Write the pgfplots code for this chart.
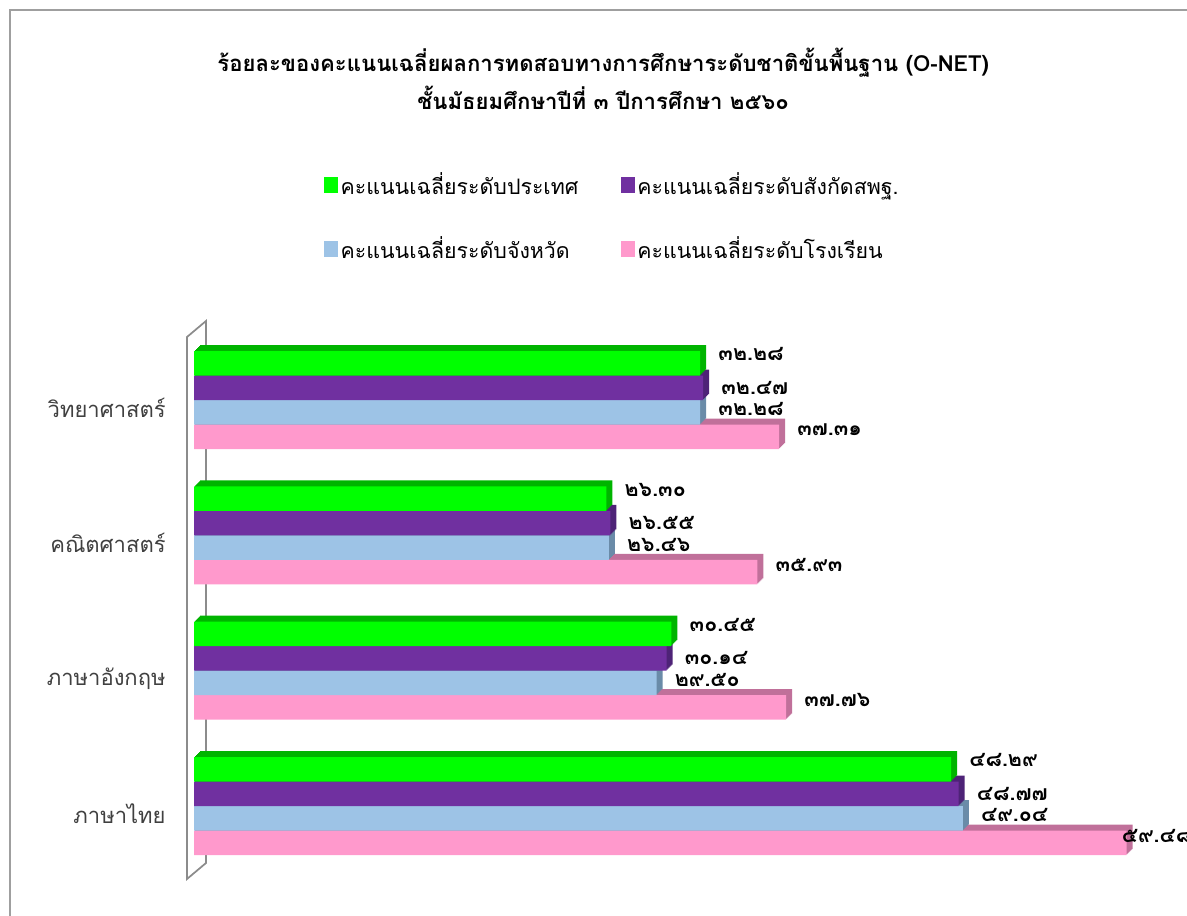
\documentclass[border=0pt]{standalone}
\usepackage{pgfplots}
\pgfplotsset{compat=1.18}
\usepackage{pgfplotstable}
\usepackage{fontspec}
\newfontfamily\thaifont[Script=Thai]{Loma}
\definecolor{cG}{HTML}{00FF00}
\definecolor{cGd}{HTML}{00B400}
\definecolor{cU}{HTML}{7030A0}
\definecolor{cUd}{HTML}{4E2377}
\definecolor{cB}{HTML}{9DC3E6}
\definecolor{cBd}{HTML}{6A8BA8}
\definecolor{cP}{HTML}{FF99CC}
\definecolor{cPd}{HTML}{C0709A}
\definecolor{txt}{HTML}{404040}

\pgfplotstableread{
y v lab
0 48.29 ๔๘.๒๙
1 30.45 ๓๐.๔๕
2 26.30 ๒๖.๓๐
3 32.28 ๓๒.๒๘
}\tGreen
\pgfplotstableread{
y v lab
0 48.77 ๔๘.๗๗
1 30.14 ๓๐.๑๔
2 26.55 ๒๖.๕๕
3 32.47 ๓๒.๔๗
}\tPurple
\pgfplotstableread{
y v lab
0 49.04 ๔๙.๐๔
1 29.50 ๒๙.๕๐
2 26.46 ๒๖.๔๖
3 32.28 ๓๒.๒๘
}\tBlue
\pgfplotstableread{
y v lab dx
0 59.48 ๕๙.๔๘ -3.75
1 37.76 ๓๗.๗๖ 13.5
2 35.93 ๓๕.๙๓ 13.5
3 37.31 ๓๗.๓๑ 13.5
}\tPink

\begin{document}
\begin{tikzpicture}[x=0.75pt,y=0.75pt]
\useasboundingbox (0,0) rectangle (1187,916);
\draw[gray!75, line width=1.1pt] (10,0) -- (10,906) -- (1187,906);
\draw[gray!90, line width=1.3pt, fill=white] (187,579) -- (206,595) -- (206,53) -- (187,37) -- cycle;
\begin{axis}[
  at={(145.5pt,31.7pt)}, anchor=south west,
  scale only axis, width=744.75pt, height=406pt,
  xmin=0, xmax=63.33, ymin=-0.5, ymax=3.5,
  enlargelimits=false, clip=false,
  axis line style={draw=none},
  xtick=\empty,
  ytick={0,1,2,3},
  yticklabels={ภาษาไทย,ภาษาอังกฤษ,คณิตศาสตร์,วิทยาศาสตร์},
  tick style={draw=none},
  yticklabel style={font=\thaifont\fontsize{16.5}{18}\selectfont, text=txt, xshift=-17.75pt, yshift=-6pt},
  title={ร้อยละของคะแนนเฉลี่ยผลการทดสอบทางการศึกษาระดับชาติขั้นพื้นฐาน (O-NET)\\ชั้นมัธยมศึกษาปีที่ ๓ ปีการศึกษา ๒๕๖๐},
  title style={at={(0.412,1.52)}, anchor=north, align=center, font=\thaifont\bfseries\fontsize{16.6}{28.5}\selectfont},
  legend columns=2,
  legend cell align=left,
  legend style={at={(0.127,1.305)}, anchor=north west, draw=none, fill=none,
    font=\thaifont\fontsize{16}{18}\selectfont,
    /tikz/every even column/.append style={column sep=30pt},
    row sep=26pt},
]
\addlegendimage{legend image code/.code={\fill[cG] (0pt,-5.6pt) rectangle (9.8pt,5.6pt);}}
\addlegendentry{คะแนนเฉลี่ยระดับประเทศ}
\addlegendimage{legend image code/.code={\fill[cU] (0pt,-5.6pt) rectangle (9.8pt,5.6pt);}}
\addlegendentry{คะแนนเฉลี่ยระดับสังกัดสพฐ.}
\addlegendimage{legend image code/.code={\fill[cB] (0pt,-5.6pt) rectangle (9.8pt,5.6pt);}}
\addlegendentry{คะแนนเฉลี่ยระดับจังหวัด}
\addlegendimage{legend image code/.code={\fill[cP] (0pt,-5.6pt) rectangle (9.8pt,5.6pt);}}
\addlegendentry{คะแนนเฉลี่ยระดับโรงเรียน}

% pink
\pgfplotsinvokeforeach{6,5,4,3,2,1}{
\addplot[xbar, bar width=18.4pt, bar shift=-27.56pt, fill=cPd, draw=none, xshift=#1*0.75pt, yshift=#1*0.75pt, forget plot] table[x=v,y=y]{\tPink};
}
\addplot[xbar, bar width=18.4pt, bar shift=-27.56pt, fill=cP, draw=none, forget plot,
  point meta=explicit symbolic, nodes near coords,
  visualization depends on={\thisrow{dx} \as \labdx},
  every node near coord/.append style={anchor=west, inner sep=0pt, xshift=\labdx pt, yshift=-22.3pt, text=black, font=\thaifont\bfseries\fontsize{16}{16}\selectfont}]
  table[x=v,y=y,meta=lab]{\tPink};
% blue
\pgfplotsinvokeforeach{6,5,4,3,2,1}{
\addplot[xbar, bar width=18.4pt, bar shift=-9.19pt, fill=cBd, draw=none, xshift=#1*0.75pt, yshift=#1*0.75pt, forget plot] table[x=v,y=y]{\tBlue};
}
\addplot[xbar, bar width=18.4pt, bar shift=-9.19pt, fill=cB, draw=none, forget plot,
  point meta=explicit symbolic, nodes near coords,
  every node near coord/.append style={anchor=west, inner sep=0pt, xshift=13.5pt, yshift=-6.94pt, text=black, font=\thaifont\bfseries\fontsize{16}{16}\selectfont}]
  table[x=v,y=y,meta=lab]{\tBlue};
% purple
\pgfplotsinvokeforeach{6,5,4,3,2,1}{
\addplot[xbar, bar width=18.4pt, bar shift=9.19pt, fill=cUd, draw=none, xshift=#1*0.75pt, yshift=#1*0.75pt, forget plot] table[x=v,y=y]{\tPurple};
}
\addplot[xbar, bar width=18.4pt, bar shift=9.19pt, fill=cU, draw=none, forget plot,
  point meta=explicit symbolic, nodes near coords,
  every node near coord/.append style={anchor=west, inner sep=0pt, xshift=13.5pt, yshift=9.19pt, text=black, font=\thaifont\bfseries\fontsize{16}{16}\selectfont}]
  table[x=v,y=y,meta=lab]{\tPurple};
% green
\pgfplotsinvokeforeach{6,5,4,3,2,1}{
\addplot[xbar, bar width=18.4pt, bar shift=27.56pt, fill=cGd, draw=none, xshift=#1*0.75pt, yshift=#1*0.75pt, forget plot] table[x=v,y=y]{\tGreen};
}
\addplot[xbar, bar width=18.4pt, bar shift=27.56pt, fill=cG, draw=none, forget plot,
  point meta=explicit symbolic, nodes near coords,
  every node near coord/.append style={anchor=west, inner sep=0pt, xshift=13.5pt, yshift=34.3pt, text=black, font=\thaifont\bfseries\fontsize{16}{16}\selectfont}]
  table[x=v,y=y,meta=lab]{\tGreen};
\end{axis}
\end{tikzpicture}
\end{document}
